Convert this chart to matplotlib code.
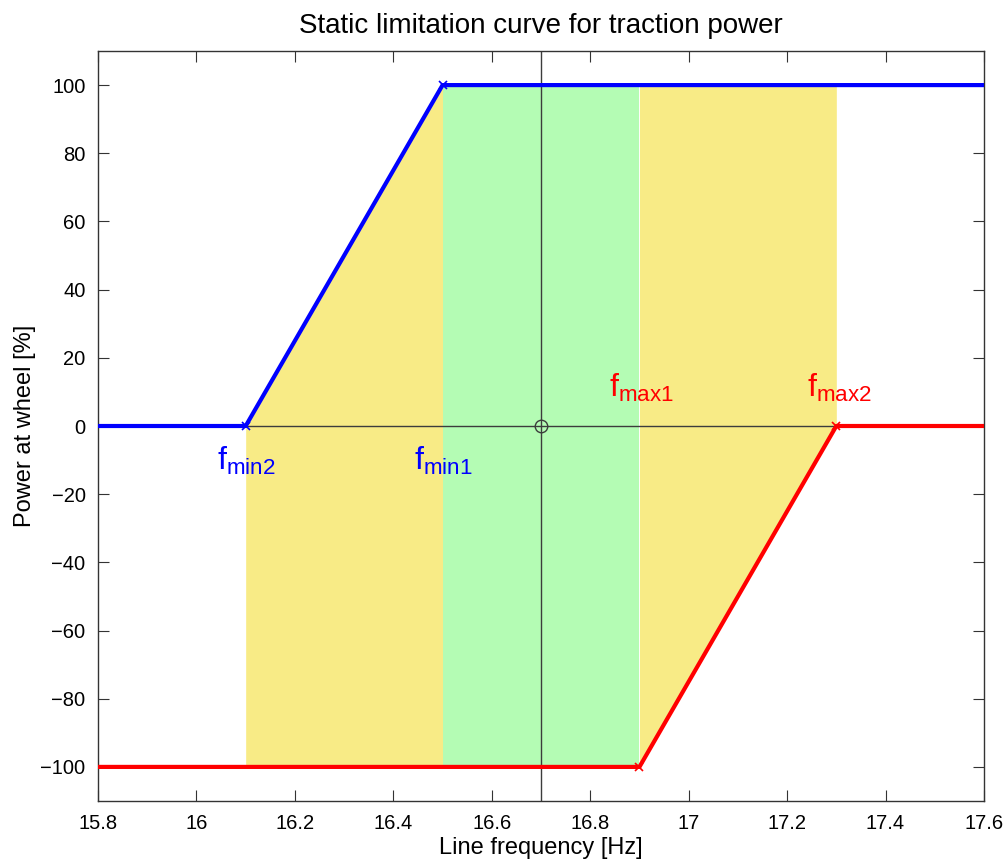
import matplotlib
matplotlib.use("Agg")
import matplotlib.pyplot as plt
import numpy as np

plt.rcParams['font.family'] = ['Liberation Sans', 'DejaVu Sans']
plt.rcParams['mathtext.fontset'] = 'custom'
plt.rcParams['mathtext.rm'] = 'Liberation Sans'
plt.rcParams['mathtext.it'] = 'Liberation Sans'

# Data
blue_x = [15.8, 16.1, 16.5, 17.6]
blue_y = [0, 0, 100, 100]
red_x = [15.8, 16.9, 17.3, 17.6]
red_y = [-100, -100, 0, 0]
knots_blue_x = [16.1, 16.5]
knots_blue_y = [0, 100]
knots_red_x = [16.9, 17.3]
knots_red_y = [-100, 0]
f_min2, f_min1, f_nom, f_max1, f_max2 = 16.1, 16.5, 16.7, 16.9, 17.3
labels = ['min2', 'min1', 'max1', 'max2']
label_x = [16.041, 16.441, 16.839, 17.240]
label_y = [-5.5, -5.5, 16, 16]
label_colors = ['#0000ff', '#0000ff', '#ff0000', '#ff0000']
xticks = [15.8, 16, 16.2, 16.4, 16.6, 16.8, 17, 17.2, 17.4, 17.6]
xticklabels = ['15.8', '16', '16.2', '16.4', '16.6', '16.8', '17', '17.2', '17.4', '17.6']
yticks = [-100, -80, -60, -40, -20, 0, 20, 40, 60, 80, 100]

fig = plt.figure(figsize=(10.05, 8.63), dpi=100)
ax = fig.add_axes([98/1005, 1-801/863, 886/1005, 750/863])

# Fills
xx = np.linspace(15.8, 17.6, 1801)
by = np.interp(xx, blue_x, blue_y)
ry = np.interp(xx, red_x, red_y)
m1 = (xx >= f_min2) & (xx <= f_min1)
m2 = (xx >= f_max1) & (xx <= f_max2)
m3 = (xx >= f_min1) & (xx <= f_max1)
yellow = '#f8eb86'
green = '#b4fcb4'
ax.fill_between(xx[m1], ry[m1], by[m1], color=yellow, lw=0, zorder=1)
ax.fill_between(xx[m2], ry[m2], by[m2], color=yellow, lw=0, zorder=1)
ax.fill_between(xx[m3], ry[m3], by[m3], color=green, lw=0, zorder=1)

# Crosshair
ax.axhline(0, color='#3c3c3c', lw=1.0, zorder=2)
ax.axvline(f_nom, color='#3c3c3c', lw=1.0, zorder=2)
ax.plot([f_nom], [0], marker='o', ms=9, mfc='none', mec='#3c3c3c', mew=1.0, zorder=3)

# Curves
ax.plot(blue_x, blue_y, color='#0000ff', lw=3, zorder=4, solid_capstyle='butt')
ax.plot(red_x, red_y, color='#ff0000', lw=3, zorder=4, solid_capstyle='butt')
ax.plot(knots_blue_x, knots_blue_y, 'x', color='#0000ff', ms=6, mew=1.2, zorder=5)
ax.plot(knots_red_x, knots_red_y, 'x', color='#ff0000', ms=6, mew=1.2, zorder=5)

for lab, lx, ly, c in zip(labels, label_x, label_y, label_colors):
    ax.text(lx, ly, r'$\mathrm{f_{%s}}$' % lab, color=c, fontsize=23, ha='left', va='top', zorder=6)

ax.set_xlim(15.8, 17.6)
ax.set_ylim(-110, 110)
ax.set_xticks(xticks)
ax.set_xticklabels(xticklabels)
ax.set_yticks(yticks)
ax.set_yticklabels([str(v).replace('-', '\u2212') for v in yticks])
ax.tick_params(direction='in', length=8, width=0.8, labelsize=14.5, top=True, right=True, pad=9, color='#333333')
for s in ax.spines.values():
    s.set_linewidth(1.0)
    s.set_color('#333333')

ax.set_title('Static limitation curve for traction power', fontsize=20, pad=13)
ax.set_xlabel('Line frequency [Hz]', fontsize=17, labelpad=3)
ax.set_ylabel('Power at wheel [%]', fontsize=17, labelpad=3)

fig.savefig('out.png', dpi=100)
